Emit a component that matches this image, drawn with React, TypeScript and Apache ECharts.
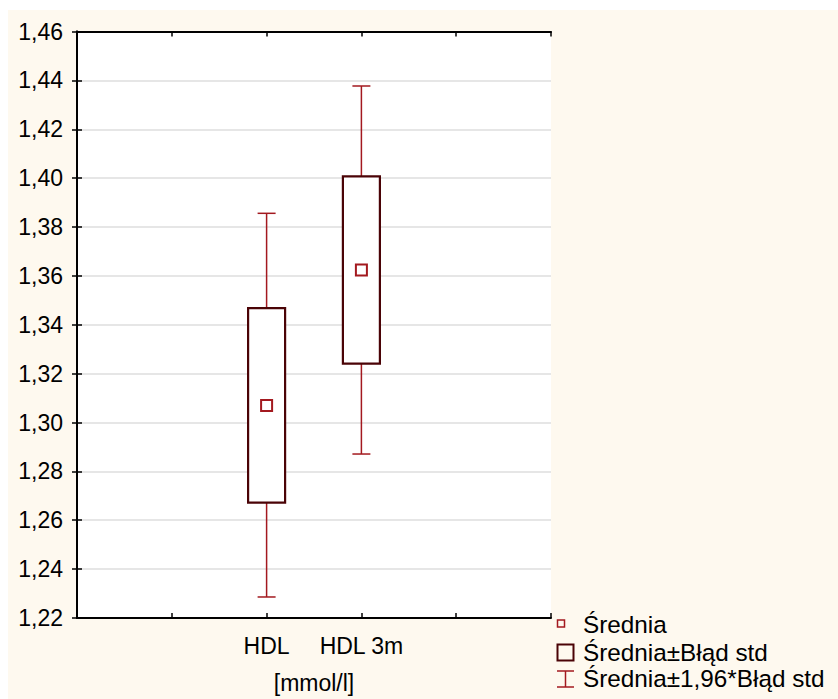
import React, { useEffect, useRef } from "react";
import * as echarts from "echarts";

const categories = ["HDL", "HDL 3m"];
const categoryPositions = [2, 3];
const means = [1.307, 1.3624];
const boxLow = [1.2672, 1.3241];
const boxHigh = [1.3468, 1.4007];
const whiskerLow = [1.2286, 1.2871];
const whiskerHigh = [1.3856, 1.4377];
const legendLabels = ["Średnia", "Średnia±Błąd std", "Średnia±1,96*Błąd std"];

const FONT = "'Liberation Sans', Arial, sans-serif";
const FS = 23;
const LFS = 24.3;
const BG = "#fef9ef";
const WHISKER = "#a3191f";
const BOX = "#4a0306";
const MEAN = "#a3191f";

export default function App() {
  const ref = useRef<HTMLDivElement>(null);
  useEffect(() => {
    document.body.style.overflow = "hidden";
    const chart = echarts.init(ref.current!, undefined, { renderer: "svg" });
    const boxData = categoryPositions.map((x, i) => [x, boxLow[i], boxHigh[i]]);
    const whiskerData = categoryPositions.map((x, i) => [x, whiskerLow[i], boxLow[i], boxHigh[i], whiskerHigh[i]]);
    const meanData = categoryPositions.map((x, i) => [x, means[i]]);
    const labelFor = (v: number) => {
      const idx = categoryPositions.indexOf(Math.round(v));
      return idx >= 0 && Math.abs(v - categoryPositions[idx]) < 1e-6 ? categories[idx] : "";
    };
    const gridLeft = 69;
    const gridTop = 21.5;
    const gridRight = 287;
    const gridBottom = 78.5;
    chart.setOption({
      animation: false,
      backgroundColor: BG,
      textStyle: { fontFamily: FONT },
      grid: {
        left: gridLeft,
        right: gridRight,
        top: gridTop,
        bottom: gridBottom,
        show: true,
        backgroundColor: "#ffffff",
        borderWidth: 0,
      },
      xAxis: [
        {
          type: "value",
          min: 0,
          max: 5,
          interval: 1,
          position: "bottom",
          axisLine: { show: true, lineStyle: { color: "#000", width: 2 } },
          axisTick: { show: true, inside: true, length: 5, lineStyle: { color: "#000", width: 1.5 } },
          axisLabel: {
            formatter: (v: number) => labelFor(v),
            color: "#000",
            fontSize: FS,
            fontFamily: FONT,
            margin: 16,
          },
          splitLine: { show: false },
          name: "[mmol/l]",
          nameLocation: "middle",
          nameGap: 53,
          nameTextStyle: { color: "#000", fontSize: FS, fontFamily: FONT },
        },
        {
          type: "value",
          min: 0,
          max: 5,
          interval: 1,
          position: "top",
          axisLine: { show: true, lineStyle: { color: "#000", width: 2 } },
          axisTick: { show: true, inside: true, length: 5, lineStyle: { color: "#000", width: 1.5 } },
          axisLabel: { show: false },
          splitLine: { show: false },
        },
      ],
      yAxis: [
        {
          type: "value",
          min: 1.22,
          max: 1.46,
          interval: 0.02,
          position: "left",
          axisLine: { show: true, lineStyle: { color: "#000", width: 2 } },
          axisTick: { show: true, inside: true, length: 5, lineStyle: { color: "#000", width: 1.5 } },
          axisLabel: {
            formatter: (v: number) => v.toFixed(2).replace(".", ","),
            color: "#000",
            fontSize: FS,
            fontFamily: FONT,
            margin: 14,
          },
          splitLine: { show: true, lineStyle: { color: "#dedede", width: 1.5 } },
        },
        {
          type: "value",
          min: 1.22,
          max: 1.46,
          interval: 0.02,
          position: "right",
          axisLine: { show: true, lineStyle: { color: "#000", width: 2 } },
          axisTick: { show: true, inside: true, length: 5, lineStyle: { color: "#000", width: 1.5 } },
          axisLabel: { show: false },
          splitLine: { show: false },
        },
      ],
      series: [
        {
          name: legendLabels[2],
          type: "custom",
          xAxisIndex: 0,
          yAxisIndex: 0,
          encode: { x: 0, y: [1, 2, 3, 4] },
          data: whiskerData,
          z: 2,
          renderItem: (params: any, api: any) => {
            const x = api.value(0);
            const pLow = api.coord([x, api.value(1)]);
            const pBL = api.coord([x, api.value(2)]);
            const pBH = api.coord([x, api.value(3)]);
            const pHigh = api.coord([x, api.value(4)]);
            const cap = 9;
            const style = { stroke: WHISKER, lineWidth: 1.5, fill: "none" };
            return {
              type: "group",
              children: [
                { type: "line", shape: { x1: pLow[0], y1: pLow[1], x2: pBL[0], y2: pBL[1] }, style },
                { type: "line", shape: { x1: pBH[0], y1: pBH[1], x2: pHigh[0], y2: pHigh[1] }, style },
                { type: "line", shape: { x1: pLow[0] - cap, y1: pLow[1], x2: pLow[0] + cap, y2: pLow[1] }, style },
                { type: "line", shape: { x1: pHigh[0] - cap, y1: pHigh[1], x2: pHigh[0] + cap, y2: pHigh[1] }, style },
              ],
            };
          },
        },
        {
          name: legendLabels[1],
          type: "custom",
          xAxisIndex: 0,
          yAxisIndex: 0,
          encode: { x: 0, y: [1, 2] },
          data: boxData,
          z: 3,
          renderItem: (params: any, api: any) => {
            const x = api.value(0);
            const pLo = api.coord([x, api.value(1)]);
            const pHi = api.coord([x, api.value(2)]);
            const w = 37;
            return {
              type: "rect",
              shape: { x: pLo[0] - w / 2, y: pHi[1], width: w, height: pLo[1] - pHi[1] },
              style: { fill: "#ffffff", stroke: BOX, lineWidth: 2.2 },
            };
          },
        },
        {
          name: legendLabels[0],
          type: "scatter",
          xAxisIndex: 0,
          yAxisIndex: 0,
          data: meanData,
          symbol: "rect",
          symbolSize: 11,
          z: 4,
          itemStyle: { color: "#ffffff", borderColor: MEAN, borderWidth: 2, opacity: 1 },
        },
      ],
      graphic: [
        { type: "rect", shape: { x: 549.5, y: 610, width: 7, height: 7 }, style: { fill: "none", stroke: MEAN, lineWidth: 1.5 } },
        { type: "text", x: 575, y: 614.5, style: { text: legendLabels[0], font: `${LFS}px ${FONT}`, fill: "#000", verticalAlign: "middle" } },
        { type: "rect", shape: { x: 549.5, y: 634.5, width: 16, height: 16 }, style: { fill: "none", stroke: BOX, lineWidth: 2 } },
        { type: "text", x: 575, y: 642.5, style: { text: legendLabels[1], font: `${LFS}px ${FONT}`, fill: "#000", verticalAlign: "middle" } },
        { type: "line", shape: { x1: 549, y1: 661, x2: 566, y2: 661 }, style: { stroke: WHISKER, lineWidth: 1.5 } },
        { type: "line", shape: { x1: 557.5, y1: 661, x2: 557.5, y2: 677 }, style: { stroke: WHISKER, lineWidth: 1.5 } },
        { type: "line", shape: { x1: 549, y1: 677, x2: 566, y2: 677 }, style: { stroke: WHISKER, lineWidth: 1.5 } },
        { type: "text", x: 575, y: 668.5, style: { text: legendLabels[2], font: `${LFS}px ${FONT}`, fill: "#000", verticalAlign: "middle" } },
      ],
    });
    return () => chart.dispose();
  }, []);
  return (
    <div
      ref={ref}
      style={{ position: "absolute", left: 8, top: 10, width: 830, height: 689 }}
    />
  );
}
